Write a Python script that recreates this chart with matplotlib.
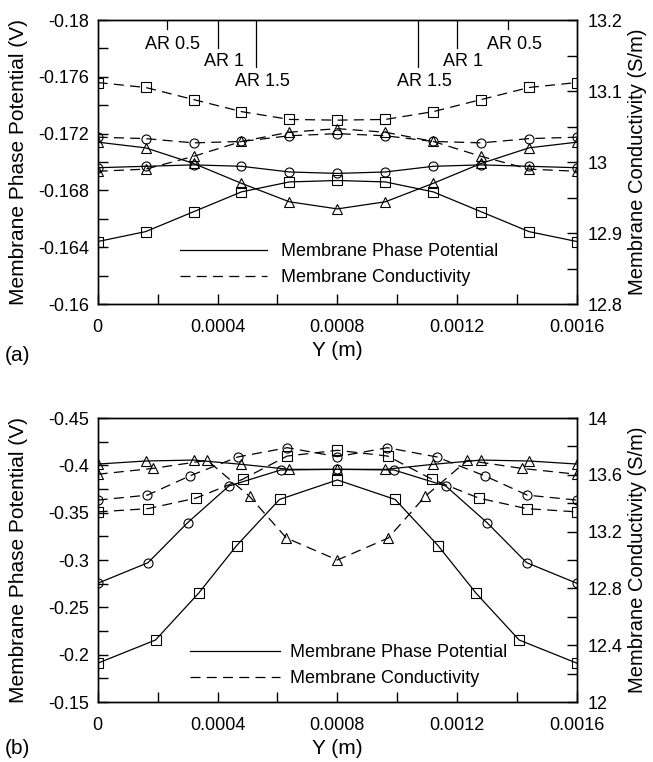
import matplotlib
matplotlib.use("Agg")
import matplotlib.pyplot as plt
from matplotlib.lines import Line2D

plt.rcParams['font.family'] = ['Liberation Sans', 'DejaVu Sans']
plt.rcParams['font.size'] = 13

# ---------------- panel (a) ----------------
ya = [0, 0.00016, 0.00032, 0.00048, 0.00064, 0.0008, 0.00096, 0.00112, 0.00128, 0.00144, 0.0016]
a_phi_sq = [-0.1644, -0.1651, -0.1665, -0.1679, -0.1686, -0.1687, -0.1686, -0.1679, -0.1665, -0.1651, -0.1644]
a_phi_ci = [-0.1696, -0.1697, -0.1698, -0.1697, -0.1693, -0.1692, -0.1693, -0.1697, -0.1698, -0.1697, -0.1696]
a_phi_tr = [-0.1714, -0.1710, -0.1699, -0.1685, -0.1672, -0.1667, -0.1672, -0.1685, -0.1699, -0.1710, -0.1714]
a_sig_sq = [13.112, 13.105, 13.088, 13.071, 13.060, 13.059, 13.060, 13.071, 13.088, 13.105, 13.112]
a_sig_ci = [13.035, 13.033, 13.027, 13.029, 13.037, 13.040, 13.037, 13.029, 13.027, 13.033, 13.035]
a_sig_tr = [12.987, 12.990, 13.008, 13.029, 13.042, 13.047, 13.042, 13.029, 13.008, 12.990, 12.987]

# AR markers drawn from the top edge: position, end of the line, label
ar_x = [0.00023, 0.0004, 0.00053, 0.00107, 0.0012, 0.00137]
ar_end = [-0.1794, -0.1780, -0.1767, -0.1767, -0.1780, -0.1794]
ar_text_y = [-0.1783, -0.1771, -0.1757, -0.1757, -0.1771, -0.1783]
ar_labels = ['AR 0.5', 'AR 1', 'AR 1.5', 'AR 1.5', 'AR 1', 'AR 0.5']

# ---------------- panel (b) ----------------
b_x_phi_sq = [0, 0.000193, 0.000337, 0.000464, 0.000607, 0.0008, 0.000993, 0.001136, 0.001263, 0.001407, 0.0016]
b_phi_sq = [-0.191, -0.2155, -0.265, -0.3153, -0.364, -0.3846, -0.364, -0.3153, -0.265, -0.2155, -0.191]
b_x_phi_ci = [0, 0.000168, 0.0003, 0.000438, 0.000611, 0.0008, 0.000989, 0.001162, 0.0013, 0.001432, 0.0016]
b_phi_ci = [-0.2754, -0.2972, -0.3394, -0.3782, -0.3951, -0.3958, -0.3951, -0.3782, -0.3394, -0.2972, -0.2754]
b_x_phi_tr = [0, 0.00016, 0.00032, 0.00048, 0.00064, 0.0008, 0.00096, 0.00112, 0.00128, 0.00144, 0.0016]
b_phi_tr = [-0.4014, -0.4046, -0.4056, -0.4011, -0.3958, -0.3958, -0.3958, -0.4011, -0.4056, -0.4046, -0.4014]

b_x_sig_sq = [0, 0.000168, 0.000328, 0.000484, 0.000632, 0.0008, 0.000968, 0.001116, 0.001272, 0.001432, 0.0016]
b_sig_sq = [13.339, 13.362, 13.436, 13.569, 13.732, 13.773, 13.732, 13.569, 13.436, 13.362, 13.339]
b_x_sig_ci = [0, 0.000166, 0.000307, 0.000468, 0.000633, 0.0008, 0.000967, 0.001132, 0.001293, 0.001434, 0.0016]
b_sig_ci = [13.422, 13.457, 13.592, 13.726, 13.791, 13.728, 13.791, 13.726, 13.592, 13.457, 13.422]
b_x_sig_tr = [0, 0.000183, 0.000366, 0.000507, 0.00063, 0.0008, 0.00097, 0.001093, 0.001234, 0.001417, 0.0016]
b_sig_tr = [13.604, 13.645, 13.702, 13.448, 13.155, 13.0, 13.155, 13.448, 13.702, 13.645, 13.604]

x_ticks = [0, 0.0004, 0.0008, 0.0012, 0.0016]
x_ticklabels = ['0', '0.0004', '0.0008', '0.0012', '0.0016']
x_minor = [0.0002, 0.0006, 0.001, 0.0014]

a_left_ticks = [-0.18, -0.176, -0.172, -0.168, -0.164, -0.16]
a_left_labels = ['-0.18', '-0.176', '-0.172', '-0.168', '-0.164', '-0.16']
a_left_minor = [-0.178, -0.174, -0.17, -0.166, -0.162]
a_right_ticks = [12.8, 12.9, 13.0, 13.1, 13.2]
a_right_labels = ['12.8', '12.9', '13', '13.1', '13.2']
a_right_minor = [12.85, 12.95, 13.05, 13.15]

b_left_ticks = [-0.45, -0.4, -0.35, -0.3, -0.25, -0.2, -0.15]
b_left_labels = ['-0.45', '-0.4', '-0.35', '-0.3', '-0.25', '-0.2', '-0.15']
b_left_minor = [-0.425, -0.375, -0.325, -0.275, -0.225, -0.175]
b_right_ticks = [12, 12.4, 12.8, 13.2, 13.6, 14]
b_right_labels = ['12', '12.4', '12.8', '13.2', '13.6', '14']
b_right_minor = [12.2, 12.6, 13.0, 13.4, 13.8]

DASH = (0, (8, 5))
MK = dict(mfc='none', mec='black', mew=0.8, color='black', lw=0.9)


def style_axes(ax, ax2, ylim, lt, ll, lm, rlim, rt, rl, rm):
    ax.set_xlim(0, 0.0016)
    ax.set_ylim(*ylim)
    ax.set_xticks(x_ticks, x_ticklabels)
    ax.set_xticks(x_minor, minor=True)
    ax.set_yticks(lt, ll)
    ax.set_yticks(lm, minor=True)
    ax.tick_params(which='both', direction='in', length=7, width=1, top=False, right=False)
    ax.tick_params(axis='y', pad=6)
    ax.tick_params(axis='x', pad=11)
    ax2.set_ylim(*rlim)
    ax2.set_yticks(rt, rl)
    ax2.set_yticks(rm, minor=True)
    ax2.tick_params(which='both', direction='in', length=7, width=1, pad=8)
    for a in (ax, ax2):
        for s in a.spines.values():
            s.set_linewidth(1)
    ax.set_ylabel('Membrane Phase Potential (V)', fontsize=15)
    ax2.set_ylabel('Membrane Conductivity (S/m)', fontsize=14.5)
    ax.set_xlabel('Y (m)', fontsize=15)
    ax.yaxis.set_label_coords(-0.145, 0.5)
    ax2.yaxis.set_label_coords(1.106, 0.5)
    ax.xaxis.set_label_coords(0.5, -0.13)


fig = plt.figure(figsize=(6.53, 7.62), dpi=100)

# panel (a)
axa = fig.add_axes([0.1496, 0.601, 0.734, 0.3727])
axa2 = axa.twinx()
axa.plot(ya, a_phi_sq, marker='s', ms=7, **MK)
axa.plot(ya, a_phi_ci, marker='o', ms=6.5, **MK)
axa.plot(ya, a_phi_tr, marker='^', ms=7, **MK)
axa2.plot(ya, a_sig_sq, marker='s', ms=7, ls=DASH, **MK)
axa2.plot(ya, a_sig_ci, marker='o', ms=6.5, ls=DASH, **MK)
axa2.plot(ya, a_sig_tr, marker='^', ms=7, ls=DASH, **MK)
style_axes(axa, axa2, (-0.16, -0.18), a_left_ticks, a_left_labels, a_left_minor,
           (12.8, 13.2), a_right_ticks, a_right_labels, a_right_minor)
for xv, ye, yt, lab in zip(ar_x, ar_end, ar_text_y, ar_labels):
    axa.plot([xv, xv], [-0.18, ye], color='black', lw=0.9)
    axa.text(xv + 0.00002, yt, lab, ha='center', va='center', fontsize=13)

handles = [Line2D([], [], color='black', lw=0.9),
           Line2D([], [], color='black', lw=0.9, ls=DASH)]
labels = ['Membrane Phase Potential', 'Membrane Conductivity']
axa.legend(handles, labels, loc='center left', bbox_to_anchor=(0.172, 0.138),
           frameon=False, handlelength=4.8, handletextpad=0.8, borderpad=0,
           borderaxespad=0, labelspacing=0.5, fontsize=13)

# panel (b)
axb = fig.add_axes([0.1496, 0.0787, 0.734, 0.3727])
axb2 = axb.twinx()
axb.plot(b_x_phi_sq, b_phi_sq, marker='s', ms=7, **MK)
axb.plot(b_x_phi_ci, b_phi_ci, marker='o', ms=6.5, **MK)
axb.plot(b_x_phi_tr, b_phi_tr, marker='^', ms=7, **MK)
axb2.plot(b_x_sig_sq, b_sig_sq, marker='s', ms=7, ls=DASH, **MK)
axb2.plot(b_x_sig_ci, b_sig_ci, marker='o', ms=6.5, ls=DASH, **MK)
axb2.plot(b_x_sig_tr, b_sig_tr, marker='^', ms=7, ls=DASH, **MK)
style_axes(axb, axb2, (-0.15, -0.45), b_left_ticks, b_left_labels, b_left_minor,
           (12, 14), b_right_ticks, b_right_labels, b_right_minor)
axb.legend(handles, labels, loc='center left', bbox_to_anchor=(0.193, 0.128),
           frameon=False, handlelength=5.0, handletextpad=0.55, borderpad=0,
           borderaxespad=0, labelspacing=0.5, fontsize=13)

fig.text(0.008, 0.534, '(a)', fontsize=15, va='center')
fig.text(0.008, 0.018, '(b)', fontsize=15, va='center')

fig.savefig('out.png', dpi=100)
